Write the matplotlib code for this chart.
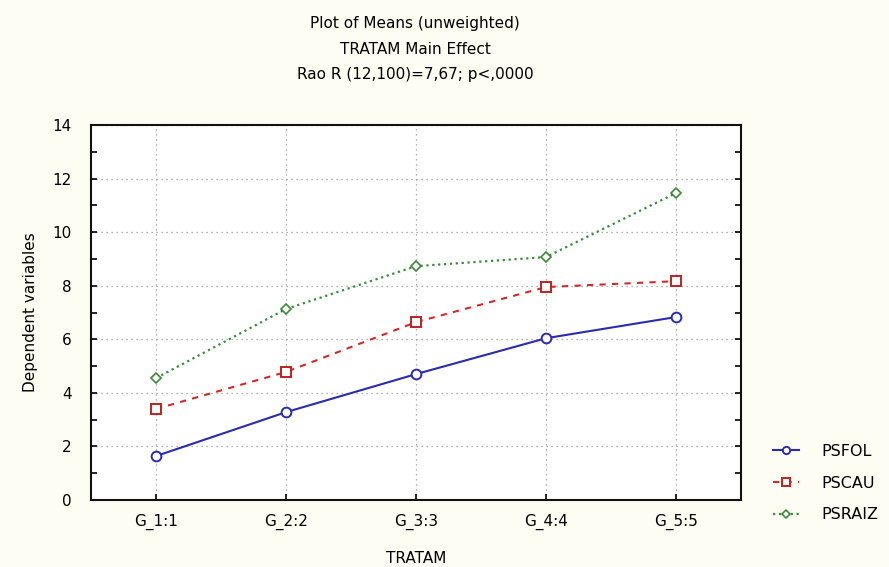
import numpy as np
import matplotlib
matplotlib.use("Agg")
import matplotlib.pyplot as plt
from matplotlib.ticker import MultipleLocator

groups = ["G_1:1", "G_2:2", "G_3:3", "G_4:4", "G_5:5"]
psfol = [1.64, 3.28, 4.70, 6.04, 6.83]
pscau = [3.40, 4.78, 6.64, 7.95, 8.17]
psraiz = [4.55, 7.13, 8.73, 9.07, 11.46]

plt.rcParams["font.family"] = ["DejaVu Sans"]
plt.rcParams["font.size"] = 11

fig = plt.figure(figsize=(8.89, 5.67), dpi=100, facecolor="#fdfdf3")
ax = fig.add_axes([0.1024, 0.1182, 0.7311, 0.6613])
ax.set_facecolor("white")

x = np.arange(len(groups))
ax.plot(x, psfol, "-", color="#2b2bb0", lw=1.5, marker="o", ms=7,
        mfc="white", mec="#2b2bb0", mew=1.4, label="PSFOL")
ax.plot(x, pscau, "--", color="#d02a2a", lw=1.5, dashes=(3, 3), marker="s", ms=7,
        mfc="white", mec="#c02020", mew=1.4, label="PSCAU")
ax.plot(x, psraiz, ":", color="#3a8a3a", lw=1.6, marker="D", ms=5.5,
        mfc="white", mec="#3a8a3a", mew=1.2, label="PSRAIZ")

ax.set_xlim(-0.5, 4.5)
ax.set_ylim(0, 14)
ax.set_xticks(x)
ax.set_xticklabels(groups)
ax.yaxis.set_major_locator(MultipleLocator(2))
ax.yaxis.set_minor_locator(MultipleLocator(1))
ax.tick_params(axis="y", which="both", direction="in", right=True, length=4, width=1.2)
ax.tick_params(axis="x", direction="in", length=4, width=1.2, pad=10)
ax.tick_params(axis="y", which="major", pad=14)
ax.grid(True, ls=(0, (1, 3)), color="#999999", lw=0.9)
for s in ax.spines.values():
    s.set_linewidth(1.5)
    s.set_color("#111111")

ax.set_xlabel("TRATAM", labelpad=15)
ax.set_ylabel("Dependent variables", labelpad=10)

fig.text(0.4668, 0.958, "Plot of Means (unweighted)", ha="center", va="center")
fig.text(0.4668, 0.913, "TRATAM Main Effect", ha="center", va="center")
fig.text(0.4668, 0.869, "Rao R (12,100)=7,67; p<,0000", ha="center", va="center")

leg = ax.legend(loc="center left", bbox_to_anchor=(1.04, 0.045), frameon=False,
                borderaxespad=0, fontsize=11.5, handlelength=1.6, markerscale=0.75,
                labelspacing=1.05, handletextpad=1.4)

fig.savefig("out.png", dpi=100, facecolor=fig.get_facecolor())
